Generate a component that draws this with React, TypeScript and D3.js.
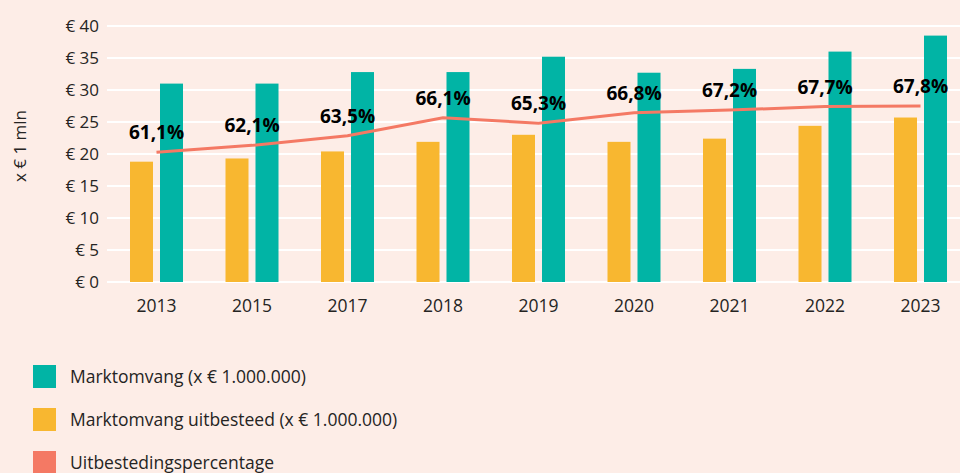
import { useEffect, useRef } from 'react';
import * as d3 from 'd3';

const years = ['2013', '2015', '2017', '2018', '2019', '2020', '2021', '2022', '2023'];
const marktomvang = [31.0, 31.0, 32.8, 32.8, 35.2, 32.7, 33.3, 36.0, 38.5];
const uitbesteed = [18.8, 19.3, 20.4, 21.9, 23.0, 21.9, 22.4, 24.4, 25.7];
const percentage = [61.1, 62.1, 63.5, 66.1, 65.3, 66.8, 67.2, 67.7, 67.8];
const yTicks = [0, 5, 10, 15, 20, 25, 30, 35, 40];

const legendItems = [
  { label: 'Marktomvang (x € 1.000.000)', color: '#01b4a5' },
  { label: 'Marktomvang uitbesteed (x € 1.000.000)', color: '#f8b730' },
  { label: 'Uitbestedingspercentage', color: '#f47964' },
];

const width = 960;
const height = 473;
const font = '"Open Sans", "Noto Sans", sans-serif';

export default function App() {
  const svgRef = useRef<SVGSVGElement>(null);

  useEffect(() => {
    if (!svgRef.current) return;
    const svg = d3.select(svgRef.current);
    svg.selectAll('*').remove();

    svg.append('rect')
      .attr('width', width)
      .attr('height', height)
      .attr('fill', '#fdede7');

    const x = d3.scaleBand<string>()
      .domain(years)
      .range([108.75, 968.25])
      .paddingInner(0)
      .paddingOuter(0);

    const xSub = d3.scaleBand<string>()
      .domain(['uitbesteed', 'markt'])
      .range([x.bandwidth() / 2 - 26.5, x.bandwidth() / 2 + 26.5])
      .paddingInner(7 / 30);

    const y = d3.scaleLinear().domain([0, 40]).range([282, 26]);
    const yPct = d3.scaleLinear().domain([55, 75]).range([194.5, 56.1]);

    // Grid lines
    svg.append('g')
      .selectAll('line')
      .data(yTicks)
      .join('line')
      .attr('x1', 107)
      .attr('x2', width)
      .attr('y1', d => y(d))
      .attr('y2', d => y(d))
      .attr('stroke', '#ffffff')
      .attr('stroke-width', 2);

    // Y tick labels
    svg.append('g')
      .selectAll('text')
      .data(yTicks)
      .join('text')
      .attr('x', 99)
      .attr('y', d => y(d) + 6)
      .attr('text-anchor', 'end')
      .style('font-family', font)
      .style('font-size', '17px')
      .style('fill', '#252423')
      .text(d => `€ ${d}`);

    // Y axis title
    svg.append('text')
      .attr('transform', 'translate(26,146) rotate(-90)')
      .attr('text-anchor', 'middle')
      .style('font-family', font)
      .style('font-size', '17px')
      .style('fill', '#252423')
      .text('x € 1 mln');

    // Bars
    const groups = svg.append('g')
      .selectAll('g')
      .data(years)
      .join('g')
      .attr('transform', d => `translate(${x(d)},0)`);

    groups.append('rect')
      .attr('x', xSub('uitbesteed') ?? 0)
      .attr('width', xSub.bandwidth())
      .attr('y', (_, i) => y(uitbesteed[i]))
      .attr('height', (_, i) => y(0) - y(uitbesteed[i]))
      .attr('fill', legendItems[1].color);

    groups.append('rect')
      .attr('x', xSub('markt') ?? 0)
      .attr('width', xSub.bandwidth())
      .attr('y', (_, i) => y(marktomvang[i]))
      .attr('height', (_, i) => y(0) - y(marktomvang[i]))
      .attr('fill', legendItems[0].color);

    // X labels
    svg.append('g')
      .selectAll('text')
      .data(years)
      .join('text')
      .attr('x', d => (x(d) ?? 0) + x.bandwidth() / 2)
      .attr('y', 312)
      .attr('text-anchor', 'middle')
      .style('font-family', font)
      .style('font-size', '17.5px')
      .style('fill', '#252423')
      .text(d => d);

    // Percentage line
    const line = d3.line<number>()
      .x((_, i) => (x(years[i]) ?? 0) + x.bandwidth() / 2)
      .y(d => yPct(d));

    svg.append('path')
      .datum(percentage)
      .attr('fill', 'none')
      .attr('stroke', legendItems[2].color)
      .attr('stroke-width', 3)
      .attr('d', line);

    svg.append('g')
      .selectAll('text')
      .data(percentage)
      .join('text')
      .attr('x', (_, i) => (x(years[i]) ?? 0) + x.bandwidth() / 2)
      .attr('y', d => yPct(d) - 13)
      .attr('text-anchor', 'middle')
      .style('font-family', font)
      .style('font-size', '19px')
      .style('font-weight', 'bold')
      .style('fill', '#000000')
      .text(d => `${d.toFixed(1).replace('.', ',')}%`);

    // Legend
    const legend = svg.append('g')
      .selectAll('g')
      .data(legendItems)
      .join('g')
      .attr('transform', (_, i) => `translate(33,${365 + i * 43})`);

    legend.append('rect')
      .attr('width', 23)
      .attr('height', 23)
      .attr('fill', d => d.color);

    legend.append('text')
      .attr('x', 37)
      .attr('y', 18)
      .style('font-family', font)
      .style('font-size', '17.5px')
      .style('fill', '#252423')
      .text(d => d.label);
  }, []);

  return (
    <svg
      ref={svgRef}
      width={width}
      height={height}
      viewBox={`0 0 ${width} ${height}`}
      style={{ position: 'fixed', left: 0, top: 0, display: 'block' }}
    />
  );
}
